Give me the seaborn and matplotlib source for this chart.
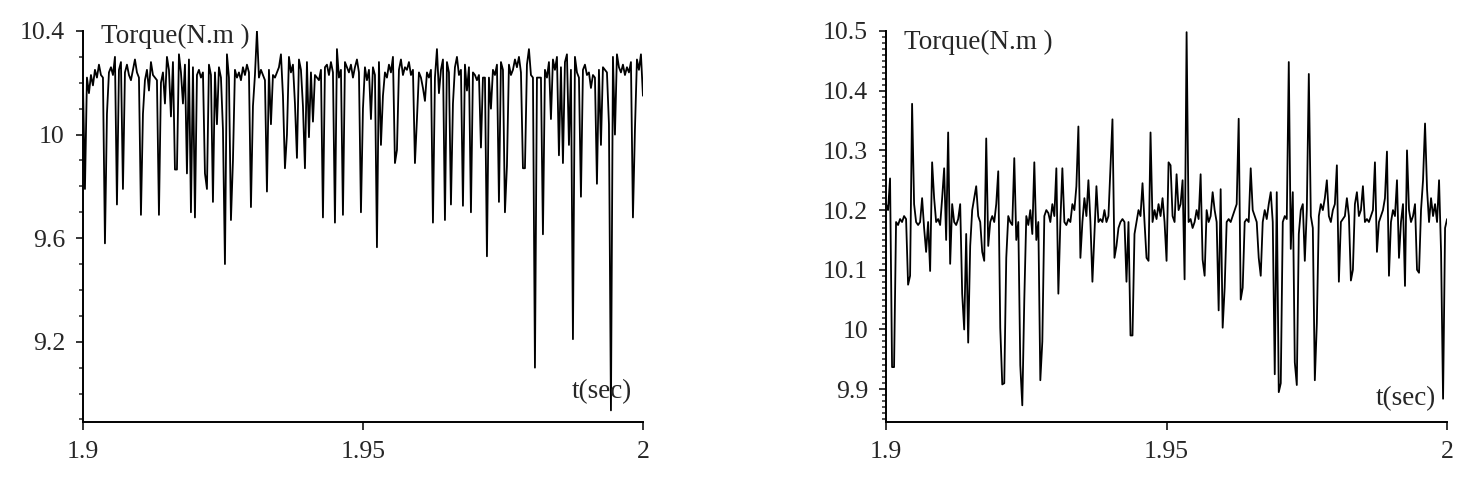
import numpy as np
import pandas as pd
import seaborn as sns
import matplotlib.pyplot as plt
import matplotlib.ticker as mticker

# torque samples, t = 1.9 .. 2.0 s
torque_left = [
    10.20, 9.79, 10.22, 10.16, 10.23, 10.19, 10.25, 10.22, 10.27, 10.23, 10.22, 9.58, 10.08, 10.24, 10.26, 10.23, 10.30, 9.73, 10.25, 10.28,
    9.79, 10.24, 10.27, 10.23, 10.21, 10.25, 10.29, 10.24, 10.22, 9.69, 10.08, 10.21, 10.25, 10.17, 10.28, 10.23, 10.22, 10.21, 9.69, 10.20,
    10.24, 10.12, 10.30, 10.25, 10.07, 10.28, 9.865, 9.865, 10.31, 10.24, 10.12, 10.27, 9.85, 10.29, 9.70, 10.26, 9.68, 10.23, 10.25, 10.22,
    10.24, 9.85, 9.79, 10.27, 10.23, 9.74, 10.24, 10.04, 10.26, 10.22, 10.02, 9.50, 10.31, 10.22, 9.67, 9.90, 10.25, 10.22, 10.24, 10.21,
    10.26, 10.23, 10.27, 10.24, 9.72, 10.11, 10.23, 10.40, 10.22, 10.25, 10.23, 10.21, 9.78, 10.25, 10.04, 10.23, 10.22, 10.24, 10.26, 10.31,
    10.15, 9.87, 10.00, 10.30, 10.24, 10.27, 10.12, 9.91, 10.29, 10.25, 10.11, 9.87, 10.28, 9.99, 10.24, 10.05, 10.23, 10.22, 10.21, 10.25,
    9.68, 10.26, 10.27, 10.23, 10.28, 10.24, 9.66, 10.33, 10.22, 10.25, 9.69, 10.28, 10.26, 10.24, 10.27, 10.22, 10.26, 10.29, 10.24, 9.70,
    10.10, 10.26, 10.21, 10.25, 10.06, 10.26, 10.23, 9.565, 10.28, 9.96, 10.15, 10.24, 10.22, 10.27, 10.24, 10.30, 9.89, 9.94, 10.25, 10.29,
    10.23, 10.26, 10.25, 10.28, 10.23, 10.25, 9.89, 10.06, 10.24, 10.22, 10.18, 10.13, 10.24, 10.22, 10.25, 9.66, 10.22, 10.33, 10.16, 10.25,
    10.29, 9.67, 10.28, 10.24, 9.73, 10.12, 10.26, 10.30, 10.23, 10.25, 9.725, 10.27, 10.17, 10.26, 9.70, 10.24, 10.23, 10.21, 10.23, 9.95,
    10.22, 10.22, 9.53, 10.22, 10.10, 10.25, 10.23, 10.27, 9.74, 10.28, 10.25, 9.70, 9.88, 10.27, 10.23, 10.25, 10.29, 10.26, 10.30, 10.24,
    9.87, 9.87, 10.27, 10.33, 10.23, 10.22, 9.10, 10.22, 10.22, 10.22, 9.615, 10.25, 10.22, 10.28, 10.06, 10.29, 10.25, 10.30, 9.92, 10.26,
    9.89, 10.28, 10.31, 9.96, 10.25, 9.21, 10.30, 10.24, 10.22, 9.76, 10.25, 10.27, 10.23, 10.24, 10.18, 10.23, 10.22, 9.81, 10.25, 9.96,
    10.26, 10.25, 10.24, 10.04, 8.935, 10.30, 10.00, 10.31, 10.26, 10.24, 10.27, 10.23, 10.26, 10.24, 10.28, 9.68, 10.02, 10.29, 10.25, 10.31,
    10.15,
]

torque_right = [
    10.21, 10.20, 10.253, 9.937, 9.937, 10.18, 10.175, 10.185, 10.18, 10.19, 10.185, 10.075, 10.09, 10.378, 10.21, 10.18, 10.175, 10.18, 10.22, 10.17,
    10.13, 10.18, 10.098, 10.28, 10.22, 10.18, 10.185, 10.175, 10.22, 10.27, 10.15, 10.33, 10.11, 10.21, 10.18, 10.175, 10.185, 10.21, 10.06, 10.00,
    10.16, 9.978, 10.14, 10.20, 10.22, 10.24, 10.19, 10.18, 10.13, 10.115, 10.32, 10.14, 10.18, 10.19, 10.18, 10.21, 10.265, 10.003, 9.908, 9.91,
    10.12, 10.19, 10.18, 10.175, 10.287, 10.15, 10.18, 9.94, 9.873, 10.05, 10.19, 10.175, 10.20, 10.16, 10.28, 10.15, 10.18, 9.915, 9.98, 10.19,
    10.20, 10.195, 10.18, 10.21, 10.19, 10.27, 10.06, 10.18, 10.27, 10.18, 10.175, 10.185, 10.18, 10.21, 10.20, 10.24, 10.34, 10.12, 10.18, 10.22,
    10.19, 10.25, 10.18, 10.08, 10.16, 10.24, 10.18, 10.185, 10.18, 10.20, 10.18, 10.19, 10.27, 10.352, 10.12, 10.14, 10.17, 10.18, 10.185, 10.18,
    10.08, 10.18, 9.99, 9.99, 10.16, 10.18, 10.20, 10.19, 10.245, 10.18, 10.12, 10.115, 10.33, 10.18, 10.20, 10.185, 10.21, 10.19, 10.22, 10.18,
    10.115, 10.28, 10.275, 10.19, 10.18, 10.26, 10.20, 10.21, 10.25, 10.084, 10.498, 10.18, 10.185, 10.17, 10.18, 10.20, 10.185, 10.26, 10.117, 10.09,
    10.20, 10.18, 10.19, 10.23, 10.20, 10.18, 10.032, 10.235, 10.003, 10.07, 10.18, 10.185, 10.18, 10.19, 10.20, 10.21, 10.353, 10.05, 10.07, 10.18,
    10.185, 10.18, 10.27, 10.20, 10.19, 10.18, 10.12, 10.09, 10.18, 10.20, 10.185, 10.21, 10.23, 10.18, 9.925, 10.23, 9.895, 9.91, 10.18, 10.19,
    10.185, 10.448, 10.135, 10.23, 9.945, 9.907, 10.16, 10.20, 10.21, 10.115, 10.20, 10.428, 10.19, 10.17, 9.915, 10.01, 10.19, 10.21, 10.20, 10.22,
    10.25, 10.19, 10.18, 10.20, 10.21, 10.275, 10.08, 10.18, 10.185, 10.19, 10.22, 10.19, 10.082, 10.10, 10.21, 10.23, 10.19, 10.20, 10.24, 10.18,
    10.185, 10.18, 10.19, 10.20, 10.28, 10.13, 10.18, 10.19, 10.20, 10.22, 10.298, 10.09, 10.18, 10.20, 10.19, 10.25, 10.12, 10.18, 10.21, 10.073,
    10.30, 10.20, 10.18, 10.19, 10.21, 10.10, 10.095, 10.20, 10.25, 10.345, 10.235, 10.18, 10.22, 10.19, 10.21, 10.18, 10.25, 10.13, 9.884, 10.17,
    10.185,
]

t = np.linspace(1.9, 2.0, len(torque_left))
xticks = [1.9, 1.95, 2.0]
yticks_left = [9.2, 9.6, 10.0, 10.4]
yticks_right = [9.9, 10.0, 10.1, 10.2, 10.3, 10.4, 10.5]

sns.set_style("ticks")
plt.rcParams['font.family'] = ['Liberation Serif', 'DejaVu Serif']

fig = plt.figure(figsize=(14.76, 4.88), dpi=100)
ax1 = fig.add_axes([0.0562, 0.1352, 0.3794, 0.8013])
ax2 = fig.add_axes([0.6003, 0.1352, 0.3801, 0.8013])

panels = [
    (ax1, torque_left, (8.89, 10.4), yticks_left, 0.1, 0.987, 0.077),
    (ax2, torque_right, (9.845, 10.5), yticks_right, 0.01, 0.972, 0.061),
]

fmt = mticker.FuncFormatter(lambda v, p: "%g" % round(v, 3))

for ax, vals, ylim, yt, minor, ty, sy in panels:
    df = pd.DataFrame({"t": t, "torque": vals})
    sns.lineplot(data=df, x="t", y="torque", ax=ax, color="black", lw=1.3)
    ax.set_xlim(1.9, 2.0)
    ax.set_ylim(*ylim)
    ax.set_xticks(xticks)
    ax.set_yticks(yt)
    ax.yaxis.set_minor_locator(mticker.MultipleLocator(minor))
    ax.xaxis.set_major_formatter(fmt)
    ax.yaxis.set_major_formatter(fmt)
    ax.set_xlabel("")
    ax.set_ylabel("")
    for s in ["top", "right"]:
        ax.spines[s].set_visible(False)
    for s in ["left", "bottom"]:
        ax.spines[s].set_linewidth(1.4)
        ax.spines[s].set_color("black")
    ax.tick_params(axis="y", which="major", length=5, width=1.3, pad=8, labelsize=18.5)
    ax.tick_params(axis="y", which="minor", length=3, width=1.1)
    ax.tick_params(axis="x", which="major", length=6, width=1.3, pad=8, labelsize=18.5)
    ax.text(0.032, ty, "Torque(N.m )", transform=ax.transAxes, fontsize=19.5,
            ha="left", va="center")
    ax.text(0.981, sy, "t(sec)", transform=ax.transAxes, fontsize=19.5,
            ha="right", va="center")

plt.savefig("out.png", dpi=100)
